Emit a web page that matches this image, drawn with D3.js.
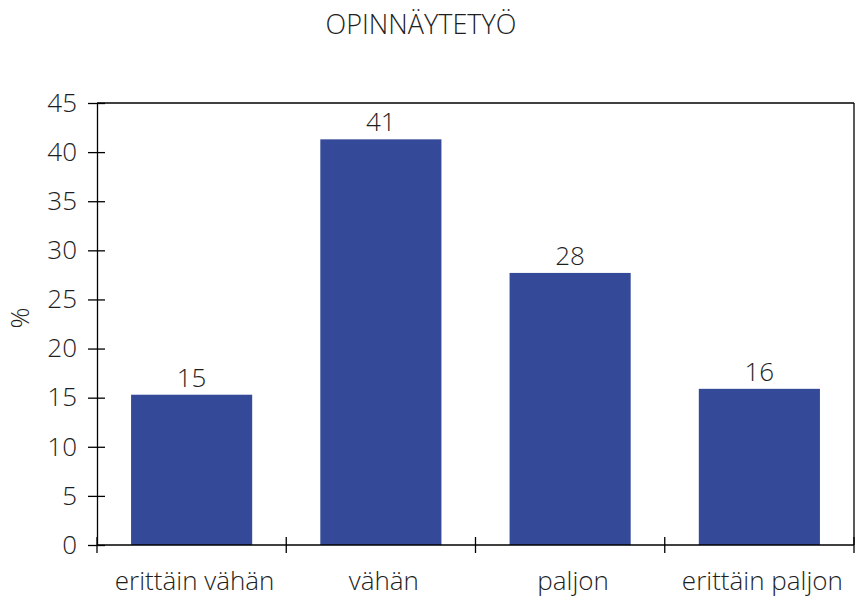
<!DOCTYPE html>
<html>
	<head>
		<meta charset="utf-8" />
		<title>opinnaytetyo</title>
		<script src="https://cdn.jsdelivr.net/npm/d3@7"></script>
		<style>
			body { margin: 0; background: #fff; }
			text { font-family: "Open Sans", sans-serif; font-weight: 300; fill: #1e1e1e; }
		</style>
	</head>
	<body>
		<svg width="858" height="600"></svg>
		<script>
			var categories = ['erittäin vähän', 'vähän', 'paljon', 'erittäin paljon']
			var values = [15.3, 41.3, 27.7, 15.9]
			var yTicks = [0, 5, 10, 15, 20, 25, 30, 35, 40, 45]
			var title = 'OPINNÄYTETYÖ'
			var yLabel = '%'

			var marge = {top:103,bottom:55,left:97,right:4}
			var svg = d3.select("svg")
			var width = svg.attr("width")
			var height = svg.attr("height")
			var w = width - marge.left - marge.right
			var h = height - marge.top - marge.bottom

			var g = svg.append('g').attr('transform',`translate(${marge.left},${marge.top})`)

			var xScale = d3.scaleBand()
				.domain(categories)
				.range([0, w])
				.paddingInner(0.36)
				.paddingOuter(0.18)

			var yScale = d3.scaleLinear()
				.domain([0, 45])
				.range([h, 0])

			// kehys ylä ja oikea
			g.append('line').attr('x1',0).attr('x2',w).attr('y1',0).attr('y2',0)
				.attr('stroke','#000').attr('stroke-width',1.3)
			g.append('line').attr('x1',w).attr('x2',w).attr('y1',0).attr('y2',h)
				.attr('stroke','#000').attr('stroke-width',1.3)

			// pylväät
			g.selectAll('.bar')
				.data(values)
				.enter()
				.append('rect')
				.attr('class','bar')
				.attr('x',(d,i)=>xScale(categories[i]))
				.attr('y',d=>yScale(d))
				.attr('width',xScale.bandwidth())
				.attr('height',d=>h-yScale(d))
				.attr('fill','#344a98')

			g.selectAll('.val')
				.data(values)
				.enter()
				.append('text')
				.attr('class','val')
				.attr('x',(d,i)=>xScale(categories[i])+xScale.bandwidth()/2)
				.attr('y',d=>yScale(d)-8)
				.attr('text-anchor','middle')
				.attr('font-size','26px')
				.text(d=>Math.round(d))

			// y-akseli
			var yAxis = d3.axisLeft(yScale).tickValues(yTicks).tickSize(0).tickPadding(20)
			var ya = g.append('g').call(yAxis)
			ya.select('.domain').attr('stroke','#000').attr('stroke-width',1.3)
			ya.selectAll('.tick line').attr('x1',-9).attr('x2',8).attr('stroke','#000').attr('stroke-width',1.3)
			ya.selectAll('.tick text').attr('font-size','26px').attr('font-family',null).attr('fill',null)

			// x-akseli
			var edges = d3.range(categories.length + 1).map(i => i * xScale.step())
			g.append('line').attr('x1',0).attr('x2',w).attr('y1',h).attr('y2',h)
				.attr('stroke','#000').attr('stroke-width',1.3)
			g.selectAll('.xtick')
				.data(edges)
				.enter()
				.append('line')
				.attr('class','xtick')
				.attr('x1',d=>d).attr('x2',d=>d)
				.attr('y1',h-8).attr('y2',h+8)
				.attr('stroke','#000').attr('stroke-width',1.3)

			g.selectAll('.xlab')
				.data(categories)
				.enter()
				.append('text')
				.attr('class','xlab')
				.attr('x',d=>xScale(d)+xScale.bandwidth()/2+3)
				.attr('y',h+45)
				.attr('text-anchor','middle')
				.attr('font-size','26px')
				.text(d=>d)
				.each(function(){
					// pidä viimeinen nimi kuvan sisällä
					var b = this.getBBox()
					var over = marge.left + b.x + b.width - (width - 3)
					if (over > 0) d3.select(this).attr('x', +d3.select(this).attr('x') - over)
				})

			svg.append('text')
				.attr('x',421).attr('y',34)
				.attr('text-anchor','middle')
				.attr('font-size','27px')
				.text(title)

			svg.append('text')
				.attr('transform','translate(29,318) rotate(-90)')
				.attr('text-anchor','middle')
				.attr('font-size','26px')
				.text(yLabel)
		</script>
	</body>
</html>
